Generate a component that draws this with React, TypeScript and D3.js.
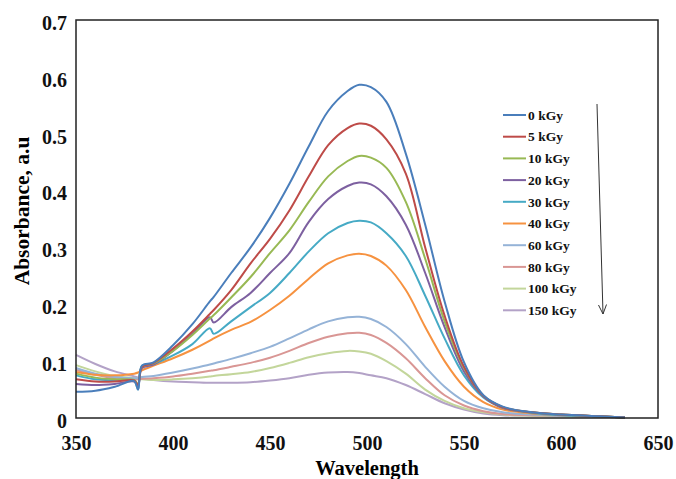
import React, { useEffect, useRef } from "react";
import * as d3 from "d3";

// wavelength grid (nm) the spectra were read at
const wavelengths = [350, 360, 370, 380, 382, 384, 390, 400, 410, 419, 421, 430, 440, 450, 460, 470, 480, 490, 496, 502, 510, 520, 530, 540, 550, 560, 570, 585, 600, 620, 633];

const doseLabels = ["0 kGy", "5 kGy", "10 kGy", "20 kGy", "30 kGy", "40 kGy", "60 kGy", "80 kGy", "100 kGy", "150 kGy"];
const colors = ["#4A7EBB", "#BE4B48", "#98B954", "#7D60A0", "#46AAC5", "#F69240", "#95B3D7", "#D99694", "#C3D69B", "#B3A2C7"];

const abs0 = [0.046, 0.048, 0.055, 0.065, 0.05, 0.092, 0.098, 0.128, 0.165, 0.205, 0.213, 0.255, 0.3, 0.352, 0.412, 0.478, 0.54, 0.575, 0.586, 0.582, 0.556, 0.465, 0.34, 0.205, 0.098, 0.04, 0.02, 0.01, 0.006, 0.003, 0.001];
const abs5 = [0.068, 0.064, 0.064, 0.066, 0.058, 0.09, 0.097, 0.122, 0.152, 0.183, 0.19, 0.225, 0.272, 0.315, 0.365, 0.425, 0.48, 0.51, 0.518, 0.514, 0.49, 0.43, 0.3, 0.18, 0.09, 0.039, 0.019, 0.01, 0.006, 0.003, 0.001];
const abs10 = [0.078, 0.071, 0.068, 0.067, 0.06, 0.09, 0.096, 0.118, 0.146, 0.175, 0.181, 0.212, 0.248, 0.29, 0.33, 0.38, 0.425, 0.452, 0.461, 0.458, 0.44, 0.38, 0.28, 0.17, 0.088, 0.039, 0.019, 0.01, 0.006, 0.003, 0.001];
const abs20 = [0.06, 0.058, 0.06, 0.064, 0.058, 0.088, 0.094, 0.118, 0.148, 0.177, 0.168, 0.195, 0.22, 0.255, 0.29, 0.345, 0.385, 0.408, 0.414, 0.411, 0.39, 0.34, 0.255, 0.16, 0.082, 0.038, 0.018, 0.01, 0.006, 0.003, 0.001];
const abs30 = [0.075, 0.068, 0.066, 0.065, 0.05, 0.092, 0.095, 0.11, 0.13, 0.158, 0.148, 0.17, 0.195, 0.22, 0.255, 0.293, 0.325, 0.343, 0.347, 0.344, 0.325, 0.285, 0.215, 0.14, 0.075, 0.036, 0.018, 0.009, 0.005, 0.003, 0.001];
const abs40 = [0.081, 0.076, 0.075, 0.078, 0.08, 0.084, 0.092, 0.105, 0.12, 0.136, 0.14, 0.155, 0.169, 0.19, 0.215, 0.245, 0.272, 0.286, 0.289, 0.285, 0.268, 0.225, 0.16, 0.1, 0.055, 0.028, 0.015, 0.008, 0.005, 0.003, 0.001];
const abs60 = [0.088, 0.078, 0.072, 0.07, 0.07, 0.072, 0.074, 0.08, 0.087, 0.094, 0.096, 0.104, 0.114, 0.125, 0.14, 0.156, 0.17, 0.177, 0.178, 0.174, 0.16, 0.13, 0.09, 0.055, 0.03, 0.017, 0.01, 0.006, 0.004, 0.002, 0.001];
const abs80 = [0.085, 0.076, 0.07, 0.068, 0.068, 0.069, 0.07, 0.073, 0.078, 0.083, 0.084, 0.09, 0.097, 0.106, 0.118, 0.132, 0.143, 0.149, 0.15, 0.146, 0.132, 0.105, 0.07, 0.04, 0.022, 0.012, 0.007, 0.005, 0.004, 0.002, 0.001];
const abs100 = [0.093, 0.082, 0.074, 0.07, 0.069, 0.068, 0.067, 0.068, 0.07, 0.073, 0.074, 0.077, 0.081, 0.088, 0.097, 0.107, 0.114, 0.118, 0.117, 0.113, 0.1, 0.078, 0.05, 0.03, 0.017, 0.01, 0.006, 0.004, 0.003, 0.002, 0.001];
const abs150 = [0.111, 0.095, 0.082, 0.073, 0.071, 0.07, 0.067, 0.064, 0.063, 0.062, 0.062, 0.062, 0.063, 0.066, 0.07, 0.076, 0.08, 0.081, 0.079, 0.075, 0.07, 0.058, 0.042, 0.026, 0.015, 0.008, 0.005, 0.004, 0.003, 0.002, 0.001];

const spectra = [abs0, abs5, abs10, abs20, abs30, abs40, abs60, abs80, abs100, abs150];

const xTicks = [350, 400, 450, 500, 550, 600, 650];
const yTicks = [0, 0.1, 0.2, 0.3, 0.4, 0.5, 0.6, 0.7];

const W = 676;
const H = 479;
const margin = { left: 76, top: 20, right: 18, bottom: 61 };
const font = "'Liberation Serif', 'Times New Roman', serif";

export default function App() {
  const ref = useRef<SVGSVGElement>(null);

  useEffect(() => {
    const svg = d3.select(ref.current);
    svg.selectAll("*").remove();

    const x = d3.scaleLinear().domain([350, 650]).range([margin.left, W - margin.right]);
    const y = d3.scaleLinear().domain([0, 0.7]).range([H - margin.bottom, margin.top]);

    const line = d3
      .line<number>()
      .x((d, i) => x(wavelengths[i]))
      .y((d) => y(d))
      .curve(d3.curveCatmullRom.alpha(0.5));

    // spectra, drawn from the bottom of the list up so 0 kGy sits on top
    svg
      .append("g")
      .selectAll("path")
      .data(spectra.map((s, i) => ({ s, i })).reverse())
      .join("path")
      .attr("d", (d) => line(d.s))
      .attr("fill", "none")
      .attr("stroke", (d) => colors[d.i])
      .attr("stroke-width", 2);

    // plot frame
    svg
      .append("rect")
      .attr("x", x(350))
      .attr("y", y(0.7))
      .attr("width", x(650) - x(350))
      .attr("height", y(0) - y(0.7))
      .attr("fill", "none")
      .attr("stroke", "#222")
      .attr("stroke-width", 1.5);

    const yAxis = svg
      .append("g")
      .attr("transform", `translate(${margin.left},3)`)
      .call(
        d3
          .axisLeft(y)
          .tickValues(yTicks)
          .tickSize(0)
          .tickPadding(9)
          .tickFormat((d) => (d === 0 ? "0" : d3.format(".1f")(d as number)))
      );
    yAxis.select(".domain").remove();

    const xAxis = svg
      .append("g")
      .attr("transform", `translate(0,${H - margin.bottom})`)
      .call(d3.axisBottom(x).tickValues(xTicks).tickSize(0).tickPadding(18).tickFormat(d3.format("d")));
    xAxis.select(".domain").remove();

    svg
      .selectAll(".tick text")
      .attr("font-family", font)
      .attr("font-weight", "bold")
      .attr("font-size", 20)
      .attr("fill", "#111");

    svg
      .append("text")
      .attr("x", (x(350) + x(650)) / 2)
      .attr("y", 475)
      .attr("text-anchor", "middle")
      .attr("font-family", font)
      .attr("font-weight", "bold")
      .attr("font-size", 20.5)
      .text("Wavelength");

    svg
      .append("text")
      .attr("transform", `translate(29,211) rotate(-90)`)
      .attr("text-anchor", "middle")
      .attr("font-family", font)
      .attr("font-weight", "bold")
      .attr("font-size", 21.5)
      .text("Absorbance, a.u");

    // legend
    const legend = svg
      .append("g")
      .selectAll("g")
      .data(doseLabels)
      .join("g")
      .attr("transform", (d, i) => `translate(503, ${115 + i * 21.7})`);

    legend
      .append("line")
      .attr("x1", 0)
      .attr("x2", 23)
      .attr("stroke", (d, i) => colors[i])
      .attr("stroke-width", 2);

    legend
      .append("text")
      .attr("x", 25)
      .attr("dy", "0.35em")
      .attr("font-family", font)
      .attr("font-weight", "bold")
      .attr("font-size", 13.5)
      .attr("fill", "#111")
      .text((d) => d);

    // dose arrow
    const arrow = svg.append("g").attr("stroke", "#333").attr("stroke-width", 1).attr("fill", "none");
    arrow.append("line").attr("x1", 597).attr("y1", 104).attr("x2", 603).attr("y2", 314);
    arrow.append("path").attr("d", "M598.5,305 L603,314 L606.5,304.5");
  }, []);

  return (
    <svg
      ref={ref}
      width={W}
      height={H}
      style={{ position: "absolute", left: 0, top: 0, background: "#fff" }}
    />
  );
}
